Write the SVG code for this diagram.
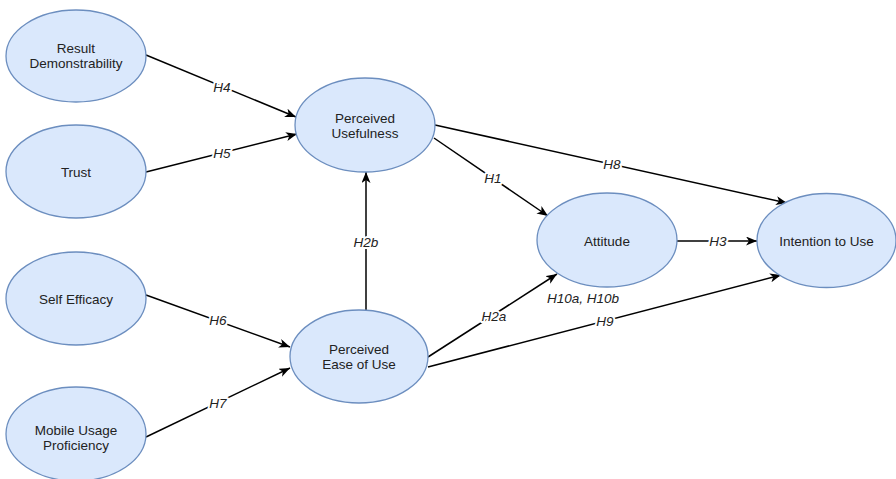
<svg xmlns="http://www.w3.org/2000/svg" width="896" height="479" viewBox="0 0 896 479">
<defs>
<marker id="arr" markerUnits="userSpaceOnUse" markerWidth="12" markerHeight="10" refX="11" refY="4.5" orient="auto">
<path d="M0,0 L11,4.5 L0,9 L3,4.5 z" fill="#000"/>
</marker>
<style>
.node ellipse{fill:#dae8fc;stroke:#6c8ebf;stroke-width:1.3}
.node text{font-family:"Liberation Sans",Arial,sans-serif;font-size:13.5px;fill:#222;text-anchor:middle}
.edges line{stroke:#000;stroke-width:1.5}
.edges .a{marker-end:url(#arr)}
.lbl{font-family:"Liberation Sans",Arial,sans-serif;font-size:13.5px;font-style:italic;fill:#222;text-anchor:middle;stroke:#fff;stroke-width:4;paint-order:stroke;stroke-linejoin:round}
</style>
</defs>
<rect width="896" height="479" fill="#fff"/>
<g class="edges">
<line class="a" x1="146" y1="55" x2="296" y2="117"/>
<line class="a" x1="146" y1="172" x2="297" y2="134"/>
<line class="a" x1="146" y1="295" x2="290" y2="347"/>
<line class="a" x1="146" y1="437" x2="290" y2="368"/>
<line class="a" x1="366" y1="310" x2="366" y2="172"/>
<line class="a" x1="434" y1="138" x2="548" y2="216"/>
<line class="a" x1="435" y1="125" x2="787" y2="203"/>
<line class="a" x1="428" y1="357" x2="557" y2="274"/>
<line class="a" x1="428" y1="367" x2="781" y2="275"/>
<line class="a" x1="677" y1="241" x2="757" y2="241"/>
<text class="lbl" x="222" y="92">H4</text>
<text class="lbl" x="222" y="158">H5</text>
<text class="lbl" x="218" y="325">H6</text>
<text class="lbl" x="218" y="408">H7</text>
<text class="lbl" x="366" y="247">H2b</text>
<text class="lbl" x="493" y="183">H1</text>
<text class="lbl" x="612" y="169">H8</text>
<text class="lbl" x="494" y="321">H2a</text>
<text class="lbl" x="605" y="326">H9</text>
<text class="lbl" x="718" y="246">H3</text>
<text class="lbl" x="583" y="303">H10a, H10b</text>
</g>
<g id="result-demonstrability" class="node"><ellipse cx="76" cy="56" rx="70" ry="46"/><text x="76" y="53">Result</text><text x="76" y="68">Demonstrability</text></g>
<g id="trust" class="node"><ellipse cx="76" cy="171.5" rx="70" ry="46.5"/><text x="76" y="177">Trust</text></g>
<g id="self-efficacy" class="node"><ellipse cx="76" cy="298.5" rx="70" ry="46.5"/><text x="76" y="304">Self Efficacy</text></g>
<g id="mobile-usage-proficiency" class="node"><ellipse cx="76" cy="434" rx="70" ry="47"/><text x="76" y="435">Mobile Usage</text><text x="76" y="450">Proficiency</text></g>
<g id="perceived-usefulness" class="node"><ellipse cx="365" cy="125" rx="70" ry="47"/><text x="365" y="123">Perceived</text><text x="365" y="138">Usefulness</text></g>
<g id="perceived-ease-of-use" class="node"><ellipse cx="359" cy="356.5" rx="69" ry="46.5"/><text x="359" y="354">Perceived</text><text x="359" y="369">Ease of Use</text></g>
<g id="attitude" class="node"><ellipse cx="607" cy="240" rx="70" ry="47"/><text x="607" y="246">Attitude</text></g>
<g id="intention-to-use" class="node"><ellipse cx="826.5" cy="240.5" rx="69.5" ry="47"/><text x="826.5" y="246">Intention to Use</text></g>
</svg>
